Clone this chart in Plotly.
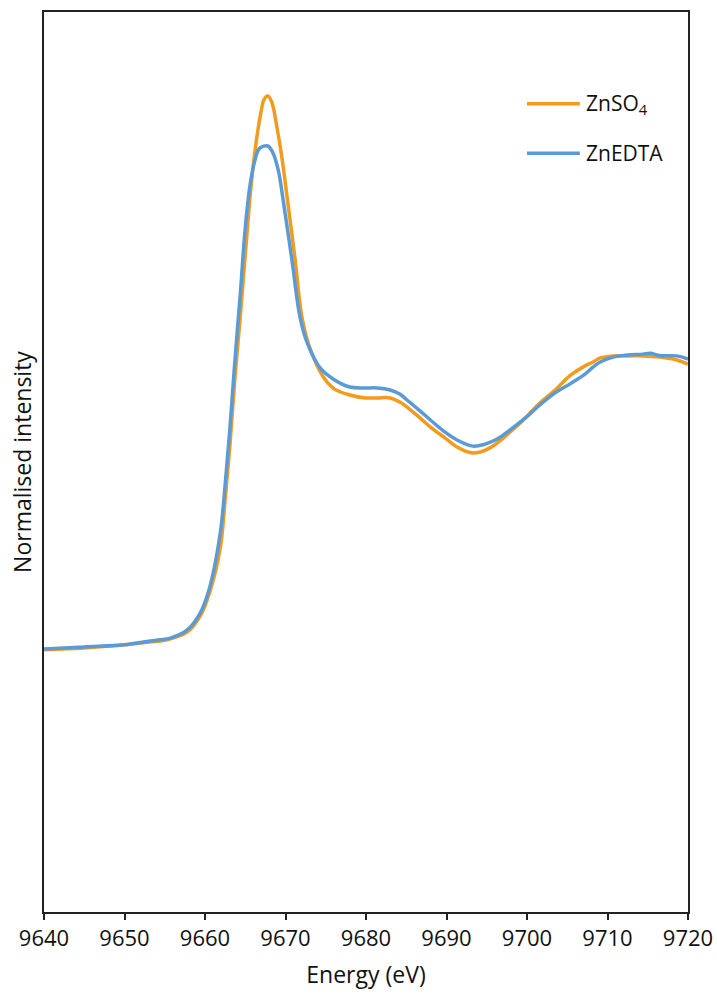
import plotly.graph_objects as go

# Zn K-edge XANES, normalised (pre-edge ~0, post-edge ~1)
energy_znso4 = [9640.0, 9645.0, 9650.0, 9653.3, 9654.5, 9655.7, 9657.8, 9659.4, 9660.6,
                9661.9, 9662.5, 9663.1, 9663.7, 9664.4, 9665.0, 9665.5, 9666.0, 9666.5,
                9667.0, 9667.3, 9667.8, 9668.3, 9668.9, 9669.6, 9670.2, 9671.2, 9672.0,
                9672.9, 9674.7, 9676.1, 9678.0, 9679.9, 9681.4, 9683.0, 9684.2, 9685.1,
                9686.7, 9688.0, 9689.8, 9691.3, 9693.2, 9694.2, 9695.4, 9696.6, 9697.9,
                9699.8, 9701.6, 9703.5, 9705.3, 9707.2, 9708.2, 9709.1, 9710.7, 9712.5,
                9714.4, 9716.5, 9718.6, 9720.0]
intensity_znso4 = [-0.003, 0.003, 0.014, 0.024, 0.027, 0.034, 0.058, 0.112, 0.194,
                   0.344, 0.507, 0.694, 0.915, 1.136, 1.340, 1.510, 1.646, 1.752,
                   1.833, 1.867, 1.881, 1.860, 1.780, 1.663, 1.537, 1.323, 1.136,
                   1.034, 0.925, 0.884, 0.864, 0.854, 0.854, 0.854, 0.840, 0.823,
                   0.786, 0.755, 0.718, 0.687, 0.667, 0.670, 0.684, 0.707, 0.738,
                   0.786, 0.837, 0.881, 0.929, 0.963, 0.976, 0.990, 0.997, 0.997,
                   0.997, 0.993, 0.983, 0.969]

energy_znedta = [9640.0, 9645.0, 9650.0, 9653.2, 9654.4, 9655.7, 9657.8, 9659.4, 9660.6,
                 9661.9, 9662.5, 9663.1, 9663.7, 9664.4, 9665.0, 9665.6, 9666.2, 9666.8,
                 9667.8, 9668.4, 9669.1, 9669.8, 9670.8, 9671.8, 9672.7, 9674.3, 9676.1,
                 9678.0, 9679.9, 9681.4, 9683.0, 9684.2, 9685.1, 9686.7, 9688.0, 9689.8,
                 9691.3, 9693.3, 9694.8, 9696.3, 9697.9, 9699.8, 9701.6, 9703.5, 9705.3,
                 9707.2, 9708.2, 9709.1, 9710.7, 9712.5, 9714.4, 9715.3, 9716.5, 9718.6,
                 9720.0]
intensity_znedta = [0.000, 0.007, 0.014, 0.027, 0.031, 0.037, 0.065, 0.122, 0.211,
                    0.395, 0.558, 0.752, 0.976, 1.214, 1.432, 1.578, 1.663, 1.704,
                    1.711, 1.690, 1.629, 1.510, 1.323, 1.129, 1.041, 0.956, 0.915,
                    0.891, 0.888, 0.888, 0.881, 0.867, 0.847, 0.810, 0.779, 0.738,
                    0.711, 0.690, 0.697, 0.714, 0.745, 0.786, 0.830, 0.871, 0.901,
                    0.935, 0.959, 0.976, 0.993, 1.000, 1.003, 1.006, 0.998, 0.997,
                    0.986]

x_ticks = [9640, 9650, 9660, 9670, 9680, 9690, 9700, 9710, 9720]

ORANGE = "#F29B1E"
BLUE = "#5B9BD5"
FONT = "Open Sans"

fig = go.Figure()
fig.add_trace(go.Scatter(x=energy_znso4, y=intensity_znso4, mode="lines",
                         name="ZnSO<sub>4</sub>", line=dict(color=ORANGE, width=3.5),
                         line_shape="spline", showlegend=False))
fig.add_trace(go.Scatter(x=energy_znedta, y=intensity_znedta, mode="lines",
                         name="ZnEDTA", line=dict(color=BLUE, width=3.5),
                         line_shape="spline", showlegend=False))

# Legend drawn as line swatches + labels in the upper right
legend_items = [("ZnSO<sub>4</sub>", ORANGE, 0.898), ("ZnEDTA", BLUE, 0.843)]
for label, color, ypos in legend_items:
    fig.add_shape(type="line", xref="paper", yref="paper", x0=0.750, x1=0.832,
                  y0=ypos, y1=ypos, line=dict(color=color, width=3.5))
    fig.add_annotation(xref="paper", yref="paper", x=0.838, y=ypos, text=label,
                       showarrow=False, xanchor="left", yanchor="middle",
                       font=dict(family=FONT, size=21, color="#111"))

fig.update_layout(
    width=717, height=998,
    margin=dict(l=44, r=29, t=12, b=86, autoexpand=False),
    paper_bgcolor="white", plot_bgcolor="white",
    font=dict(family=FONT, size=22, color="#111"),
    xaxis=dict(range=[9640, 9720], tickvals=x_ticks, ticks="outside", ticklen=6,
               tickwidth=1.5, tickcolor="#222", showline=True, linecolor="#222",
               linewidth=1.6, mirror=True, showgrid=False, zeroline=False,
               automargin=False,
               title=dict(text="Energy (eV)", standoff=16, font=dict(size=23)),
               tickfont=dict(size=22)),
    yaxis=dict(range=[-0.895, 2.167], showticklabels=False, ticks="",
               showline=True, linecolor="#222", linewidth=1.6, mirror=True,
               showgrid=False, zeroline=False, automargin=False,
               title=dict(text="Normalised intensity", standoff=4, font=dict(size=23))),
)

fig.write_html("out.html")
